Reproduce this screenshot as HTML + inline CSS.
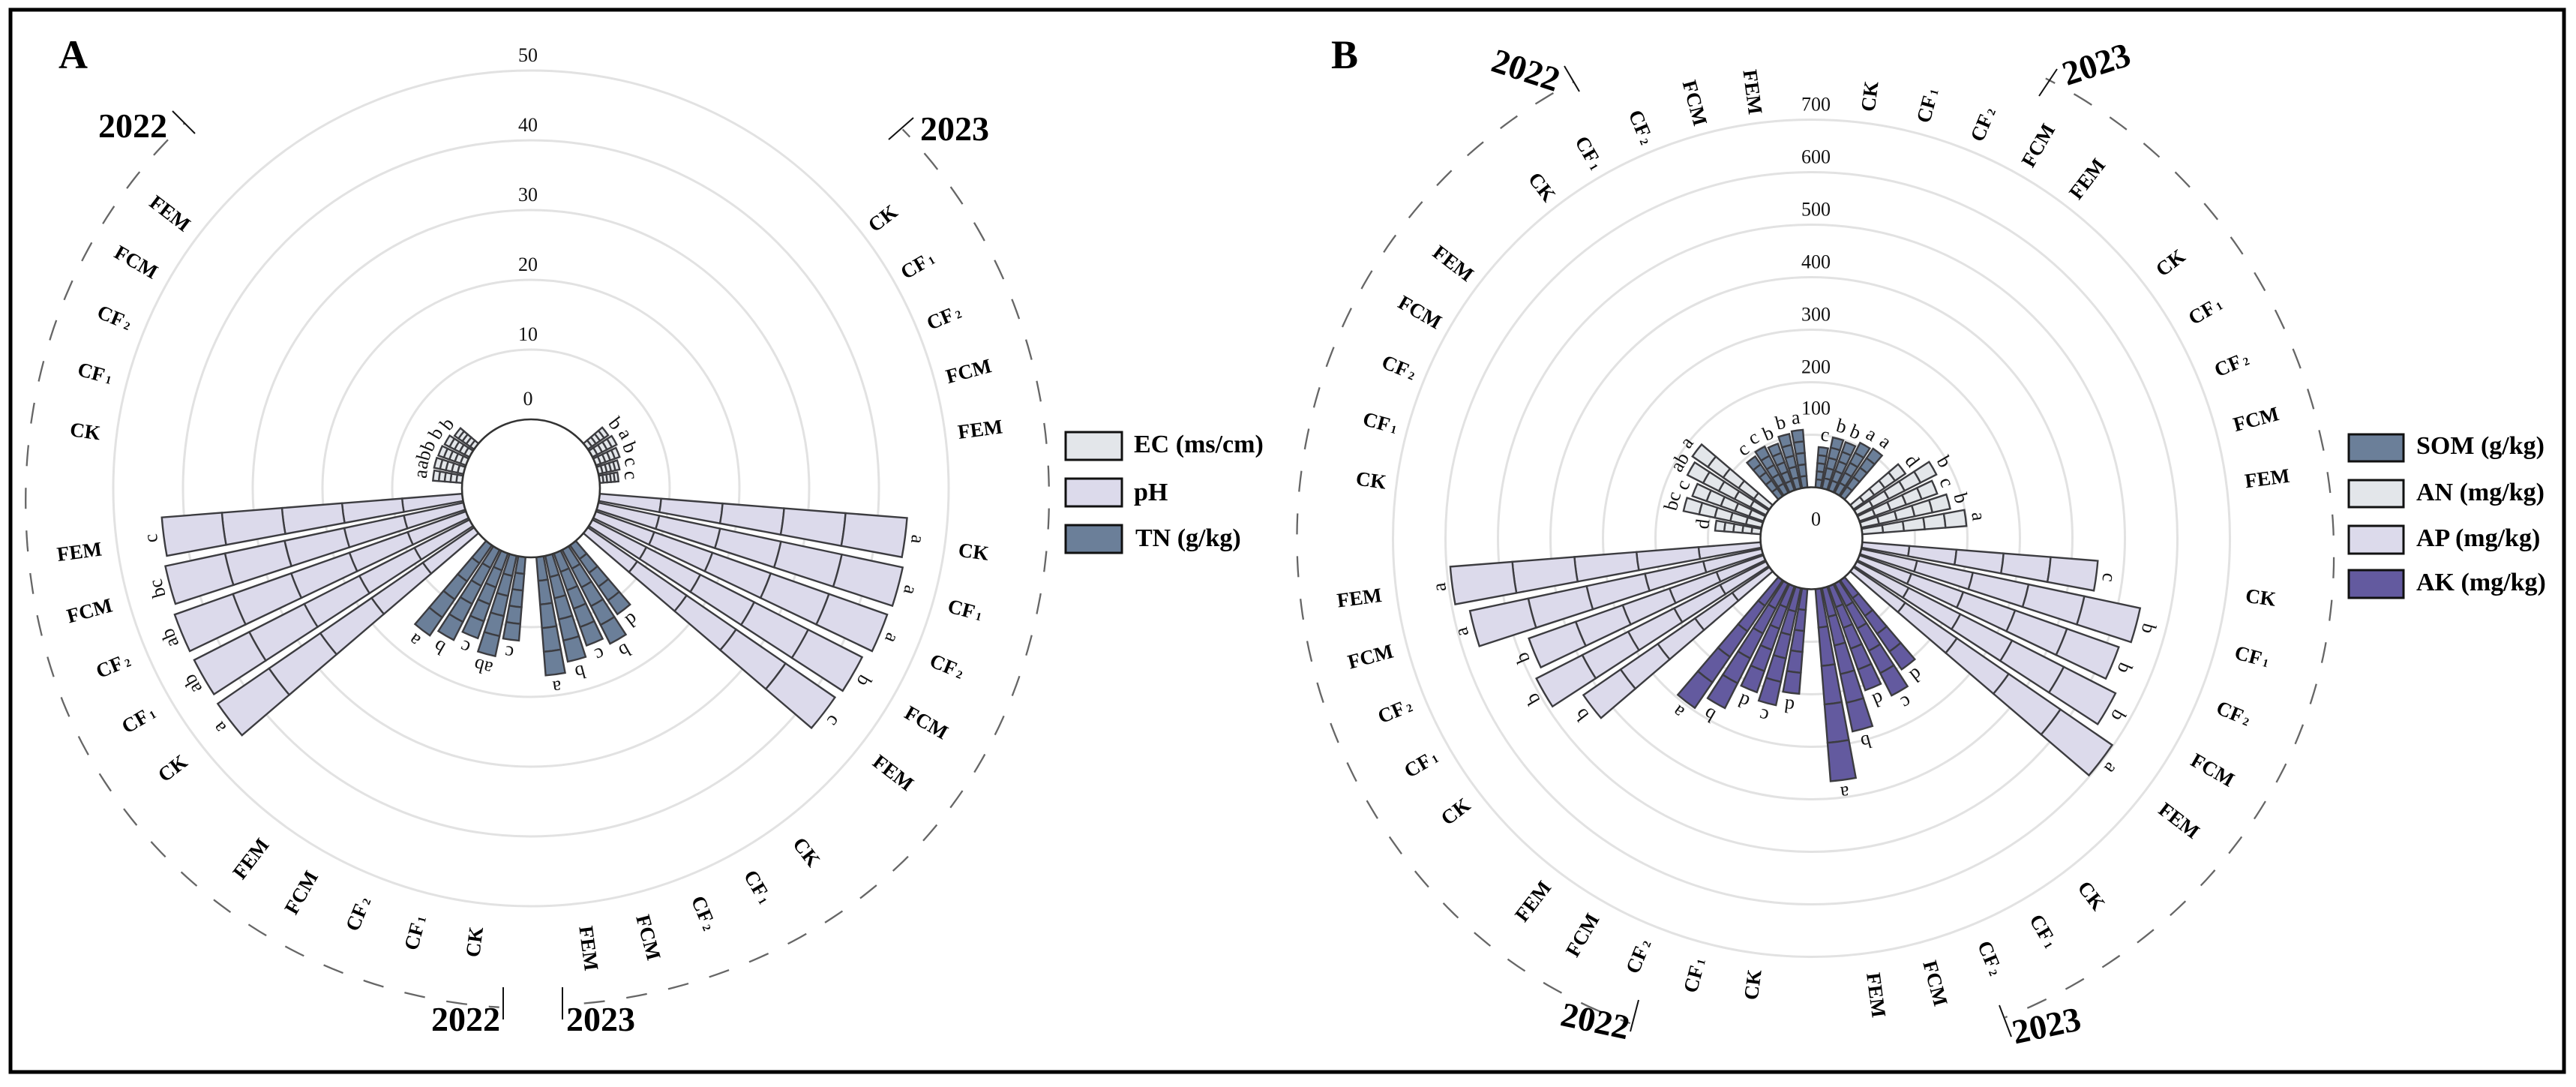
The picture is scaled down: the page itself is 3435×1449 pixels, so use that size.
<!DOCTYPE html>
<html lang="en">
<head>
<meta charset="utf-8">
<title>Polar stacked bar charts of soil properties</title>
<style>
html,body{margin:0;padding:0;background:#fff;}
svg{display:block;font-family:"Liberation Serif",serif;}
.legend-text{font-size:34px;font-weight:bold;fill:#000;}
.year{font-size:46px;font-weight:bold;fill:#000;}
.panel-tag{font-size:54px;font-weight:bold;fill:#000;}
.swatch{stroke:#111;stroke-width:3;}
.tick-mark{stroke:#111;stroke-width:2;}
</style>
</head>
<body>
<svg id="chart" xmlns="http://www.w3.org/2000/svg" width="3435" height="1449" viewBox="0 0 3435 1449">
  <rect x="0" y="0" width="3435" height="1449" fill="#fff"/>
  <rect x="14" y="13" width="3405" height="1416" fill="none" stroke="#000" stroke-width="5"/>
  <g id="panelA"></g>
  <g id="panelB"></g>

  <text class="panel-tag" x="78" y="91">A</text>
  <text class="panel-tag" x="1775" y="91">B</text>

  <g>
    <text class="year" x="131" y="183">2022</text>
    <text class="year" x="1227" y="187">2023</text>
    <text class="year" x="575" y="1374">2022</text>
    <text class="year" x="755" y="1374">2023</text>
    <line class="tick-mark" x1="230" y1="148" x2="260" y2="178"/>
    <line class="tick-mark" x1="1185" y1="186" x2="1218" y2="157"/>
    <line class="tick-mark" x1="671" y1="1316" x2="671" y2="1359"/>
    <line class="tick-mark" x1="750" y1="1316" x2="750" y2="1359"/>
  </g>

  <g>
    <text class="year" text-anchor="middle" transform="translate(2030,108) rotate(18)">2022</text>
    <text class="year" text-anchor="middle" transform="translate(2800,100) rotate(-18)">2023</text>
    <text class="year" text-anchor="middle" transform="translate(2124,1376) rotate(12)">2022</text>
    <text class="year" text-anchor="middle" transform="translate(2732,1382) rotate(-12)">2023</text>
    <line class="tick-mark" x1="2086" y1="88" x2="2106" y2="122"/>
    <line class="tick-mark" x1="2719" y1="128" x2="2743" y2="92"/>
    <line class="tick-mark" x1="2185" y1="1333" x2="2174" y2="1375"/>
    <line class="tick-mark" x1="2666" y1="1340" x2="2682" y2="1382"/>
  </g>

  <g>
    <g>
      <rect class="swatch" x="1421" y="576" width="75" height="37" fill="#e3e6ea"/>
      <text class="legend-text" x="1512" y="603">EC (ms/cm)</text>
    </g>
    <g>
      <rect class="swatch" x="1421" y="638" width="75" height="37" fill="#dcdaeb"/>
      <text class="legend-text" x="1512" y="667">pH</text>
    </g>
    <g>
      <rect class="swatch" x="1421" y="700" width="75" height="37" fill="#6b7f99"/>
      <text class="legend-text" x="1514" y="728">TN (g/kg)</text>
    </g>
  </g>

  <g>
    <g>
      <rect class="swatch" x="3132" y="579" width="73" height="36" fill="#6b7f99"/>
      <text class="legend-text" x="3222" y="605">SOM (g/kg)</text>
    </g>
    <g>
      <rect class="swatch" x="3132" y="640" width="73" height="36" fill="#e3e6ea"/>
      <text class="legend-text" x="3222" y="667">AN (mg/kg)</text>
    </g>
    <g>
      <rect class="swatch" x="3132" y="701" width="73" height="37" fill="#dcdaeb"/>
      <text class="legend-text" x="3222" y="728">AP (mg/kg)</text>
    </g>
    <g>
      <rect class="swatch" x="3132" y="760" width="73" height="37" fill="#635a9f"/>
      <text class="legend-text" x="3222" y="787">AK (mg/kg)</text>
    </g>
  </g>
</svg>

<script>
// ---- data: categories, tick labels, series values, significance letters ----
const treatments = ['CK', 'CF1', 'CF2', 'FCM', 'FEM'];

const ticksA = [0, 10, 20, 30, 40, 50];
const ticksB = [0, 100, 200, 300, 400, 500, 600, 700];

const ec2023 = [3.55, 3.9, 3.6, 3.1, 2.7];
const ec2023Letters = ['b', 'a', 'b', 'c', 'c'];
const ph2023 = [44.2, 44.6, 44.3, 43.4, 43.0];
const ph2023Letters = ['a', 'a', 'a', 'b', 'c'];
const tn2023 = [12.0, 15.1, 14.0, 15.5, 17.0];
const tn2023Letters = ['d', 'b', 'c', 'b', 'a'];
const tn2022 = [12.0, 14.7, 12.9, 14.5, 15.7];
const tn2022Letters = ['c', 'ab', 'c', 'b', 'a'];
const ph2022 = [44.6, 44.3, 44.3, 43.7, 43.2];
const ph2022Letters = ['a', 'ab', 'ab', 'bc', 'c'];
const ec2022 = [4.2, 4.3, 4.2, 4.0, 3.4];
const ec2022Letters = ['a', 'ab', 'b', 'b', 'b'];

const som2023 = [77, 99, 97, 107, 110];
const som2023Letters = ['c', 'b', 'b', 'a', 'a'];
const an2023 = [120, 170, 157, 173, 199];
const an2023Letters = ['d', 'b', 'c', 'b', 'a'];
const ap2023 = [450, 543, 524, 553, 598];
const ap2023Letters = ['c', 'b', 'b', 'b', 'a'];
const ak2023 = [206, 239, 210, 279, 367];
const ak2023Letters = ['d', 'c', 'd', 'b', 'a'];
const ak2022 = [200, 228, 214, 266, 295];
const ak2022Letters = ['d', 'c', 'd', 'b', 'a'];
const ap2022 = [430, 491, 474, 568, 593];
const ap2022Letters = ['b', 'b', 'b', 'a', 'a'];
const an2022 = [87, 152, 143.5, 168, 178];
const an2022Letters = ['d', 'bc', 'c', 'ab', 'a'];
const som2022 = [92, 99, 94, 106, 110];
const som2022Letters = ['c', 'c', 'b', 'b', 'a'];

// ---- drawing ----
const NS = 'http://www.w3.org/2000/svg';
const SLOT_DEG = 7.5;
const BAR_DEG = 6;
const SEGMENTS = 5;
const COLORS = { light: '#e3e6ea', mid: '#dcdaeb', slate: '#6b7f99', violet: '#635a9f' };

function polar(p, r, deg) {
  const a = (deg - 90) * Math.PI / 180;
  return [p.cx + r * Math.cos(a), p.cy + r * Math.sin(a)];
}

function radius(p, v) {
  return p.r0 + v * p.scale;
}

function sectorPath(p, r1, r2, a1, a2) {
  const A = polar(p, r1, a1), B = polar(p, r2, a1), C = polar(p, r2, a2), D = polar(p, r1, a2);
  return 'M' + A[0].toFixed(2) + ' ' + A[1].toFixed(2) +
    'L' + B[0].toFixed(2) + ' ' + B[1].toFixed(2) +
    'A' + r2.toFixed(2) + ' ' + r2.toFixed(2) + ' 0 0 1 ' + C[0].toFixed(2) + ' ' + C[1].toFixed(2) +
    'L' + D[0].toFixed(2) + ' ' + D[1].toFixed(2) +
    'A' + r1.toFixed(2) + ' ' + r1.toFixed(2) + ' 0 0 0 ' + A[0].toFixed(2) + ' ' + A[1].toFixed(2) + 'Z';
}

function drawRings(p, ticks) {
  ticks.forEach(function (t) {
    const c = document.createElementNS(NS, 'circle');
    
    
    c.setAttribute('cx', p.cx);
    c.setAttribute('cy', p.cy);
    c.setAttribute('r', radius(p, t));
    c.setAttribute('fill', 'none');
    c.setAttribute('stroke', '#e2e2e2');
    c.setAttribute('stroke-width', '3');
    p.g.appendChild(c);
  });
}

function drawTickLabels(p, ticks) {
  ticks.forEach(function (t) {
    const r = radius(p, t);
    let labelR = r + 21;
    if (t === 0) labelR = p.zeroLabelR;
    if (t === 100 && p.tickDx > 0) labelR = r + 36;
    const tx = document.createElementNS(NS, 'text');
    
    
    tx.setAttribute('x', p.cx + p.tickDx);
    tx.setAttribute('y', p.cy - labelR + 9);
    tx.setAttribute('text-anchor', 'middle');
    tx.setAttribute('font-size', '26');
    tx.setAttribute('fill', '#111');
    tx.textContent = String(t);
    p.g.appendChild(tx);
  });
}

function drawGroup(p, slot, values, letters, fill, labelR, series, labelStep, labelShift) {
  const step = labelStep || 0;
  const shift = labelShift || 0;
  values.forEach(function (v, i) {
    const theta = (slot + i) * SLOT_DEG;
    const a1 = theta - BAR_DEG / 2, a2 = theta + BAR_DEG / 2;
    const bar = document.createElementNS(NS, 'g');
    
    
    for (let s = 0; s < SEGMENTS; s++) {
      const seg = document.createElementNS(NS, 'path');
      
      
      seg.setAttribute('d', sectorPath(p, radius(p, v * s / SEGMENTS), radius(p, v * (s + 1) / SEGMENTS), a1, a2));
      seg.setAttribute('fill', fill);
      seg.setAttribute('stroke', '#3c3c40');
      seg.setAttribute('stroke-width', '2.4');
      seg.setAttribute('stroke-linejoin', 'miter');
      bar.appendChild(seg);
    }
    p.g.appendChild(bar);

    const lp = polar(p, radius(p, v) + 16, theta);
    const lt = document.createElementNS(NS, 'text');
    
    
    lt.setAttribute('text-anchor', 'middle');
    lt.setAttribute('y', '7');
    lt.setAttribute('font-size', '26');
    lt.setAttribute('fill', '#111');
    lt.setAttribute('transform', 'translate(' + lp[0].toFixed(1) + ',' + lp[1].toFixed(1) + ') rotate(' + theta + ')');
    lt.textContent = letters[i];
    p.labels.push(lt);

    const name = treatments[i];
    const gp = polar(p, labelR + step * i, theta + shift);
    const right = theta < 180;
    const gt = document.createElementNS(NS, 'text');
    
    
    gt.setAttribute('text-anchor', right ? 'start' : 'end');
    gt.setAttribute('y', '9');
    gt.setAttribute('font-size', '27');
    gt.setAttribute('font-weight', 'bold');
    gt.setAttribute('fill', '#000');
    gt.setAttribute('transform', 'translate(' + gp[0].toFixed(1) + ',' + gp[1].toFixed(1) + ') rotate(' + (right ? theta - 90 : theta + 90) + ')');
    if (name.indexOf('CF') === 0) {
      gt.appendChild(document.createTextNode('CF'));
      const sub = document.createElementNS(NS, 'tspan');
      sub.setAttribute('font-size', '15');
      sub.setAttribute('dx', '3');
      sub.textContent = name.slice(2);
      gt.appendChild(sub);
    } else {
      gt.textContent = name;
    }
    p.labels.push(gt);
  });
}

function drawCenter(p) {
  const c = document.createElementNS(NS, 'circle');
  
  
  c.setAttribute('cx', p.cx);
  c.setAttribute('cy', p.cy);
  c.setAttribute('r', p.r0);
  c.setAttribute('fill', '#fff');
  c.setAttribute('stroke', '#333');
  c.setAttribute('stroke-width', '2.6');
  p.g.appendChild(c);
}

// The outer year arcs are hand-drawn in the source figure, so their radius drifts with angle.
function drawDashedArc(p, from, to, radiusAt) {
  let d = '';
  for (let t = from; t <= to + 0.001; t += 1) {
    const pt = polar(p, radiusAt(t), t);
    d += (d ? 'L' : 'M') + pt[0].toFixed(1) + ' ' + pt[1].toFixed(1);
  }
  const arc = document.createElementNS(NS, 'path');
  
  
  arc.setAttribute('d', d);
  arc.setAttribute('fill', 'none');
  arc.setAttribute('stroke', '#666');
  arc.setAttribute('stroke-width', '2.3');
  arc.setAttribute('stroke-dasharray', '28 29');
  arc.setAttribute('stroke-dashoffset', '14');
  p.g.appendChild(arc);
}

function finish(p) {
  p.labels.forEach(function (el) { p.g.appendChild(el); });
}

// ---- panel A ----
const pA = { g: document.getElementById('panelA'), cx: 708, cy: 651, r0: 92, scale: 9.3, tickDx: -4, zeroLabelR: 120, labels: [] };
drawRings(pA, ticksA.slice(1));
drawDashedArc(pA, 46, 176.5, function (t) { return 689 + 14 * Math.exp(-Math.pow((t - 130) / 28, 2)); });
drawDashedArc(pA, 183.5, 316.5, function (t) { return 671 + 22 / (1 + Math.exp((t - 252) / 9)); });
drawGroup(pA, 7, ec2023, ec2023Letters, COLORS.light, 571, 'ec-2023', 0.8, 0);
drawGroup(pA, 13, ph2023, ph2023Letters, COLORS.mid, 576, 'ph-2023', 2, 0.65);
drawGroup(pA, 19, tn2023, tn2023Letters, COLORS.slate, 588, 'tn-2023', 0, 0.35);
drawGroup(pA, 25, tn2022, tn2022Letters, COLORS.slate, 589, 'tn-2022', 0, -0.4);
drawGroup(pA, 31, ph2022, ph2022Letters, COLORS.mid, 586, 'ph-2022', -2, -0.5);
drawGroup(pA, 37, ec2022, ec2022Letters, COLORS.light, 579, 'ec-2022', -1, -0.2);
drawCenter(pA);
drawTickLabels(pA, ticksA);
finish(pA);

// ---- panel B ----
const pB = { g: document.getElementById('panelB'), cx: 2415.5, cy: 717.5, r0: 68, scale: 0.7, tickDx: 6, zeroLabelR: 26, labels: [] };
drawRings(pB, ticksB.slice(1));
drawDashedArc(pB, 27, 158, function (t) { return 688 + 13 * Math.exp(-Math.pow((t - 110) / 30, 2)); });
drawDashedArc(pB, 200.5, 332.5, function (t) { return 686 + 6 * Math.exp(-Math.pow((t - 215) / 25, 2)); });
drawGroup(pB, 1, som2023, som2023Letters, COLORS.slate, 574, 'som-2023', 0, 0);
drawGroup(pB, 7, an2023, an2023Letters, COLORS.light, 583, 'an-2023', 0, 0);
drawGroup(pB, 13, ap2023, ap2023Letters, COLORS.mid, 584, 'ap-2023', 1, 0);
drawGroup(pB, 19, ak2023, ak2023Letters, COLORS.violet, 585, 'ak-2023', 0, -0.6);
drawGroup(pB, 25, ak2022, ak2022Letters, COLORS.violet, 580, 'ak-2022', 0, 0);
drawGroup(pB, 31, ap2022, ap2022Letters, COLORS.mid, 578, 'ap-2022', 0, 0);
drawGroup(pB, 37, an2022, an2022Letters, COLORS.light, 572, 'an-2022', 0, 0);
drawGroup(pB, 43, som2022, som2022Letters, COLORS.slate, 570, 'som-2022', 0, 0);
drawCenter(pB);
drawTickLabels(pB, ticksB);
finish(pB);
</script>
</body>
</html>
